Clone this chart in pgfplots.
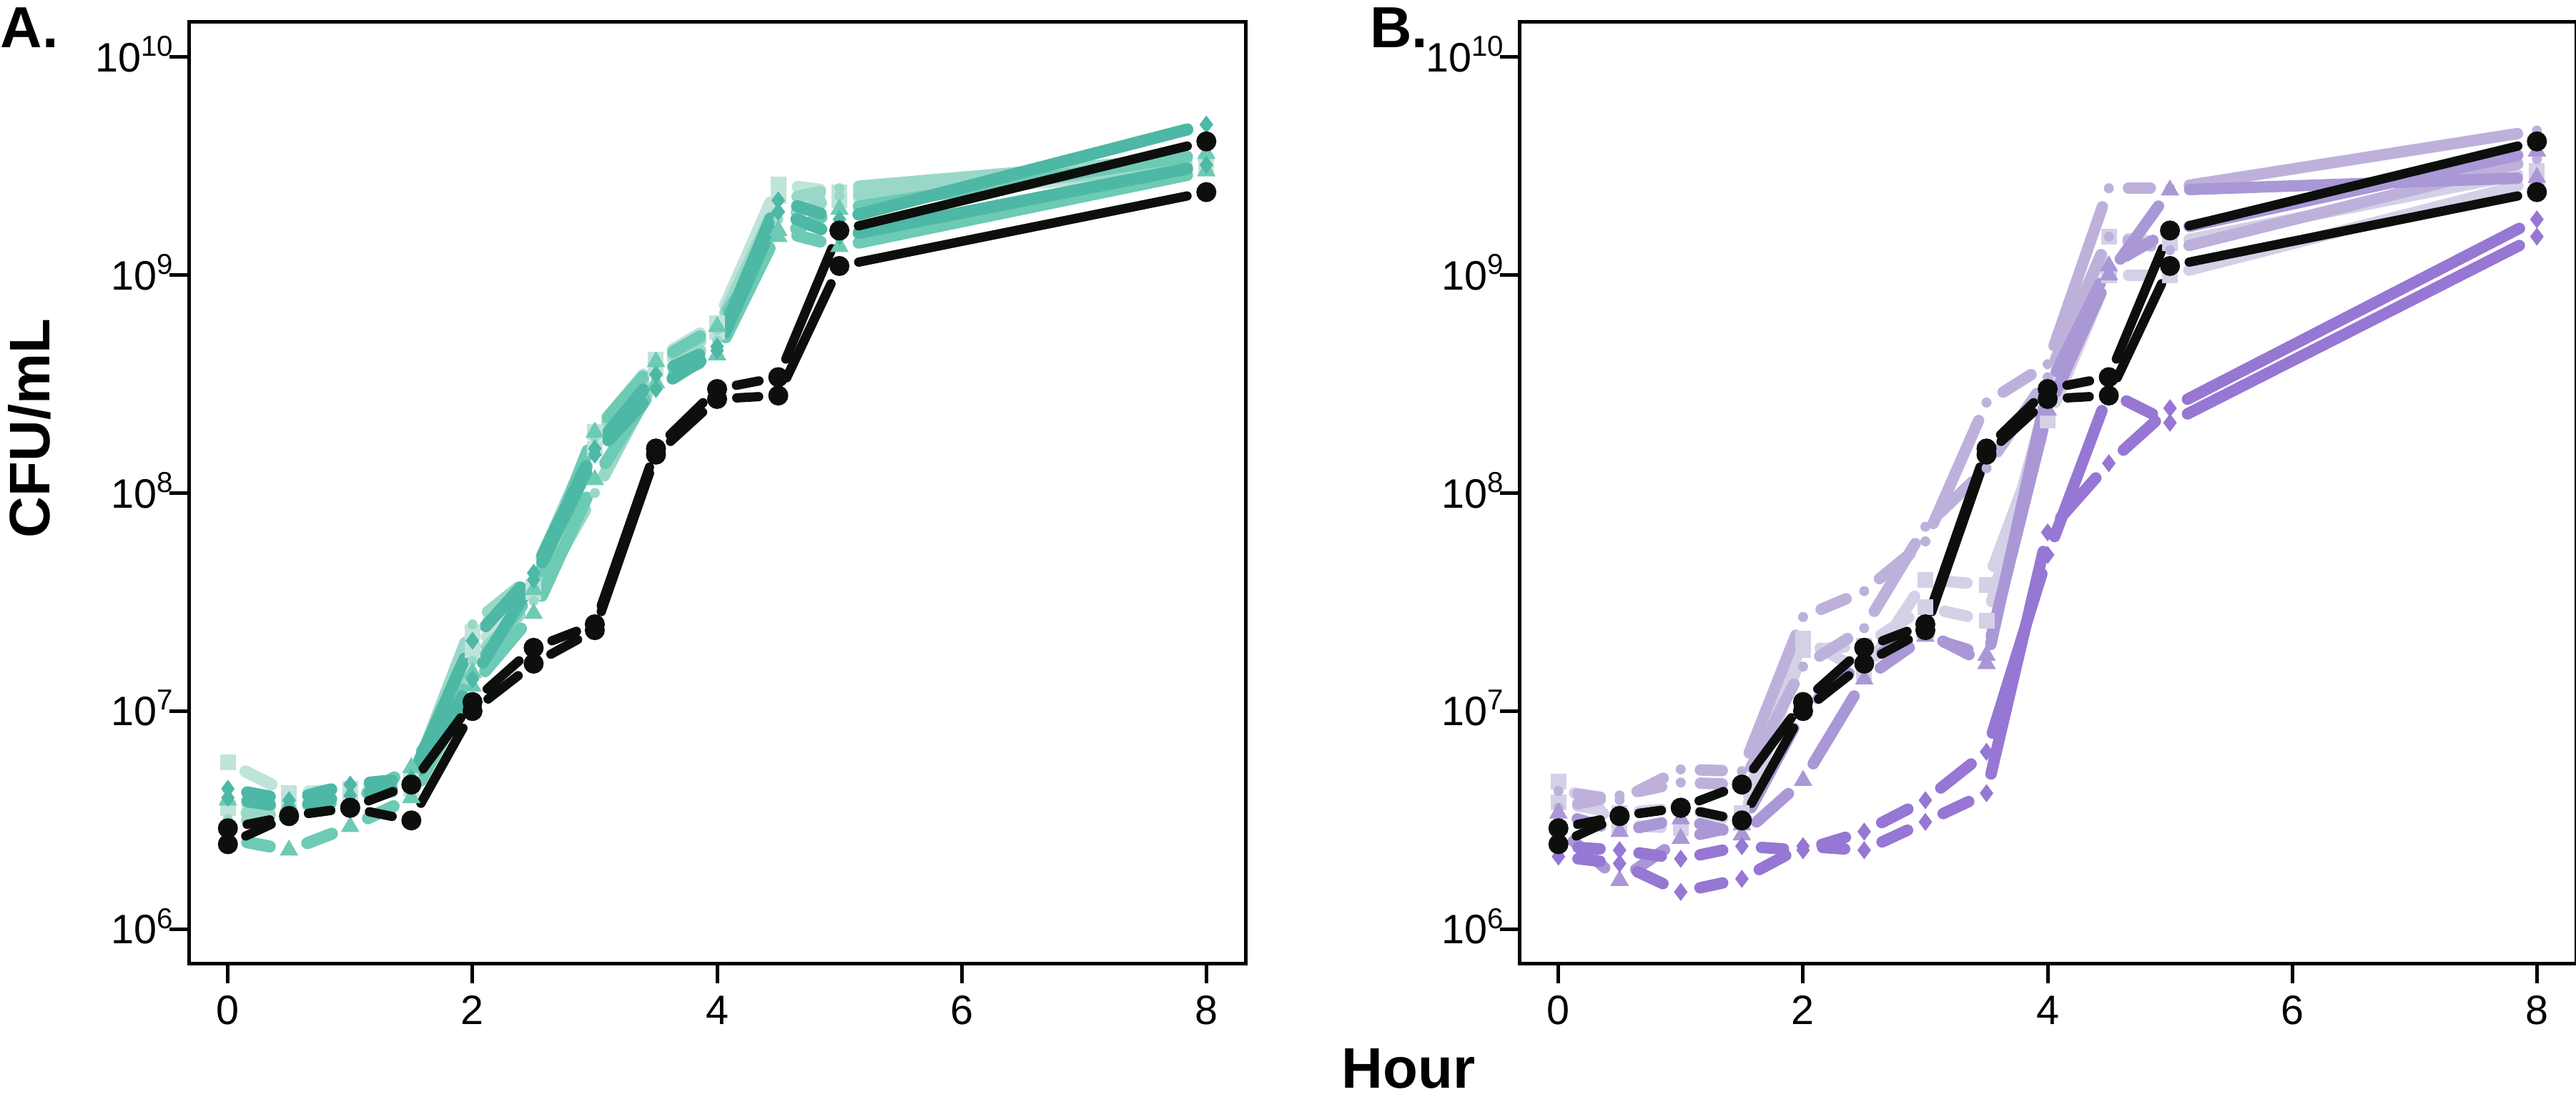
\documentclass[border=0pt]{standalone}
\usepackage{pgfplots}
\pgfplotsset{compat=1.18}
\usepackage{pgfplotstable}
\usepackage{fontspec}
\setmainfont{Liberation Sans}

\definecolor{tA1}{HTML}{BFE4DA}
\definecolor{tA2}{HTML}{99D8C8}
\definecolor{tA3}{HTML}{6DCAB5}
\definecolor{tA4}{HTML}{4DB8A5}
\definecolor{pB1}{HTML}{D4D0E6}
\definecolor{pB2}{HTML}{BDB1DC}
\definecolor{pB3}{HTML}{AA97D6}
\definecolor{pB4}{HTML}{9677D3}
\definecolor{blk}{HTML}{0D0F0D}

\pgfplotstableread{
t   s1     s2     s3     s4     s5     s6     s7     s8     w1     w2
0   5.8e6  3.6e6  3.2e6  3.0e6  3.9e6  2.6e6  4.4e6  4.0e6  2.9e6  2.45e6
0.5 4.2e6  3.7e6  3.9e6  3.5e6  3.7e6  2.3e6  3.9e6  3.6e6  3.3e6  3.3e6
1   4.4e6  4.0e6  4.6e6  4.2e6  3.8e6  2.95e6 4.6e6  4.1e6  3.6e6  3.6e6
1.5 4.8e6  4.4e6  4.7e6  4.3e6  5.5e6  4.0e6  4.9e6  4.5e6  4.6e6  3.15e6
2   2.3e7  1.9e7  2.5e7  1.7e7  1.5e7  1.3e7  2.1e7  1.4e7  1.1e7  1.0e7
2.5 3.7e7  3.5e7  4.2e7  3.2e7  3.6e7  2.8e7  4.3e7  4.0e7  1.95e7 1.65e7
3   1.9e8  1.6e8  1.8e8  1.0e8  1.9e8  1.15e8 1.6e8  1.5e8  2.5e7  2.35e7
3.5 4.1e8  3.7e8  3.9e8  3.4e8  4.0e8  3.2e8  3.5e8  3.0e8  1.6e8  1.5e8
4   6.0e8  5.5e8  5.6e8  5.0e8  5.8e8  4.3e8  4.7e8  4.5e8  3.0e8  2.7e8
4.5 2.6e9  2.3e9  2.2e9  1.8e9  1.5e9  1.6e9  2.2e9  1.95e9 3.4e8  2.8e8
5   2.4e9  2.2e9  2.5e9  2.3e9  2.0e9  1.35e9 1.8e9  1.5e9  1.6e9  1.1e9
8   3.3e9  3.1e9  3.5e9  3.2e9  3.6e9  3.0e9  4.9e9  3.2e9  4.1e9  2.4e9
}\dataA

\pgfplotstableread{
t   s1     s2     s3     s4     s5     s6     s7     s8     w1     w2
0   4.75e6 3.8e6  4.3e6  3.6e6  3.4e6  2.9e6  2.4e6  2.15e6 2.9e6  2.45e6
0.5 3.0e6  3.4e6  3.9e6  4.1e6  2.8e6  1.67e6 2.3e6  2.0e6  3.3e6  3.3e6
1   2.9e6  3.6e6  5.4e6  4.7e6  3.2e6  2.6e6  2.1e6  1.48e6 3.6e6  3.6e6
1.5 3.4e6  3.1e6  5.3e6  4.6e6  2.7e6  3.0e6  2.4e6  1.7e6  4.6e6  3.15e6
2   2.15e7 1.9e7  2.7e7  1.6e7  4.8e6  1.0e7  2.3e6  2.4e6  1.1e7  1.0e7
2.5 1.5e7  2.0e7  3.55e7 2.4e7  1.4e7  1.7e7  2.8e6  2.3e6  1.95e7 1.65e7
3   4.0e7  3.0e7  6.0e7  7.0e7  2.2e7  2.3e7  3.9e6  3.1e6  2.5e7  2.35e7
3.5 3.8e7  2.6e7  2.6e8  1.3e8  1.8e7  1.65e7 6.5e6  4.2e6  1.6e8  1.5e8
4   2.15e8 2.8e8  3.9e8  3.4e8  2.4e8  3.0e8  5.2e7  6.6e7  3.0e8  2.7e8
4.5 1.0e9  1.5e9  2.5e9  1.5e9  1.0e9  1.1e9  2.9e8  1.37e8 3.4e8  2.8e8
5   1.0e9  1.4e9  2.5e9  1.3e9  2.45e9 1.6e9  2.1e8  2.45e8 1.6e9  1.1e9
8   2.7e9  3.0e9  4.6e9  3.4e9  2.8e9  3.7e9  1.5e9  1.8e9  4.1e9  2.4e9
}\dataB

\newcommand{\ser}[6]{%
  \pgfplotsinvokeforeach{0:1,1:2,2:3,3:4,4:5,5:6,6:7,7:8,8:9,9:10,10:11}{%
    \addplot[#3, line width=#4, line cap=round, shorten <=5.5pt, shorten >=5.5pt,
      no markers, forget plot, restrict expr to domain={\coordindex}{##1}]
      table[x=t, y=#2] {#1};
  }%
  \addplot[only marks, mark=#5, mark size=#6, #3, forget plot] table[x=t, y=#2] {#1};
}

\begin{document}
\begin{tikzpicture}
\useasboundingbox (0,0) rectangle (720.6pt,306.8pt);

\begin{axis}[at={(52.8pt,37.2pt)}, anchor=south west,
  scale only axis, width=295.6pt, height=263.4pt,
  ymode=log, xmin=-0.32, xmax=8.32, ymin=6.918e5, ymax=1.445e10,
  xtick={0,2,4,6,8}, ytick={1e6,1e7,1e8,1e9,1e10},
  yticklabels={10\textsuperscript{6},10\textsuperscript{7},10\textsuperscript{8},10\textsuperscript{9},10\textsuperscript{10}},
  yminorticks=false, tick align=outside, tick pos=left,
  major tick length=5.4pt,
  axis line style={line width=1pt},
  every tick/.style={black, line width=1pt},
  tick label style={font=\fontsize{11.5}{12}\selectfont},
  yticklabel style={xshift=5pt, yshift=0.8pt},
  /pgf/number format/assume math mode=true]
  \ser{\dataA}{s1}{tA1}{3.4pt}{square*}{2pt}
  \ser{\dataA}{s2}{tA1}{3.4pt}{square*}{2pt}
  \ser{\dataA}{s3}{tA2}{3.4pt}{*}{1.2pt}
  \ser{\dataA}{s4}{tA2}{3.4pt}{*}{1.2pt}
  \ser{\dataA}{s5}{tA3}{3.4pt}{triangle*}{2.6pt}
  \ser{\dataA}{s6}{tA3}{3.4pt}{triangle*}{2.6pt}
  \ser{\dataA}{s7}{tA4}{3.4pt}{diamond*}{2.2pt}
  \ser{\dataA}{s8}{tA4}{3.4pt}{diamond*}{2.2pt}
  \ser{\dataA}{w1}{blk}{2.6pt}{*}{2.6pt}
  \ser{\dataA}{w2}{blk}{2.6pt}{*}{2.6pt}
\end{axis}

\begin{axis}[at={(425pt,37.2pt)}, anchor=south west,
  scale only axis, width=295.6pt, height=263.4pt,
  ymode=log, xmin=-0.32, xmax=8.32, ymin=6.918e5, ymax=1.445e10,
  xtick={0,2,4,6,8}, ytick={1e6,1e7,1e8,1e9,1e10},
  yticklabels={10\textsuperscript{6},10\textsuperscript{7},10\textsuperscript{8},10\textsuperscript{9},10\textsuperscript{10}},
  yminorticks=false, tick align=outside, tick pos=left,
  major tick length=5.4pt,
  axis line style={line width=1pt},
  every tick/.style={black, line width=1pt},
  tick label style={font=\fontsize{11.5}{12}\selectfont},
  yticklabel style={xshift=5pt, yshift=0.8pt},
  /pgf/number format/assume math mode=true]
  \ser{\dataB}{s1}{pB1}{3.2pt}{square*}{2pt}
  \ser{\dataB}{s2}{pB1}{3.2pt}{square*}{2pt}
  \ser{\dataB}{s3}{pB2}{3.2pt}{*}{1.2pt}
  \ser{\dataB}{s4}{pB2}{3.2pt}{*}{1.2pt}
  \ser{\dataB}{s5}{pB3}{3.2pt}{triangle*}{2.6pt}
  \ser{\dataB}{s6}{pB3}{3.2pt}{triangle*}{2.6pt}
  \ser{\dataB}{s7}{pB4}{3.2pt}{diamond*}{2.2pt}
  \ser{\dataB}{s8}{pB4}{3.2pt}{diamond*}{2.2pt}
  \ser{\dataB}{w1}{blk}{2.6pt}{*}{2.6pt}
  \ser{\dataB}{w2}{blk}{2.6pt}{*}{2.6pt}
\end{axis}

\node[anchor=base west, inner sep=0pt, font=\bfseries\fontsize{16.2}{18}\selectfont] at (0pt,293.5pt) {A.};
\node[anchor=base west, inner sep=0pt, font=\bfseries\fontsize{16.2}{18}\selectfont] at (383pt,293.5pt) {B.};
\node[rotate=90, inner sep=0pt, font=\bfseries\fontsize{16}{18}\selectfont] at (8.3pt,187pt) {CFU/mL};
\node[anchor=base, inner sep=0pt, font=\bfseries\fontsize{16}{18}\selectfont] at (394pt,2.5pt) {Hour};
\end{tikzpicture}
\end{document}
